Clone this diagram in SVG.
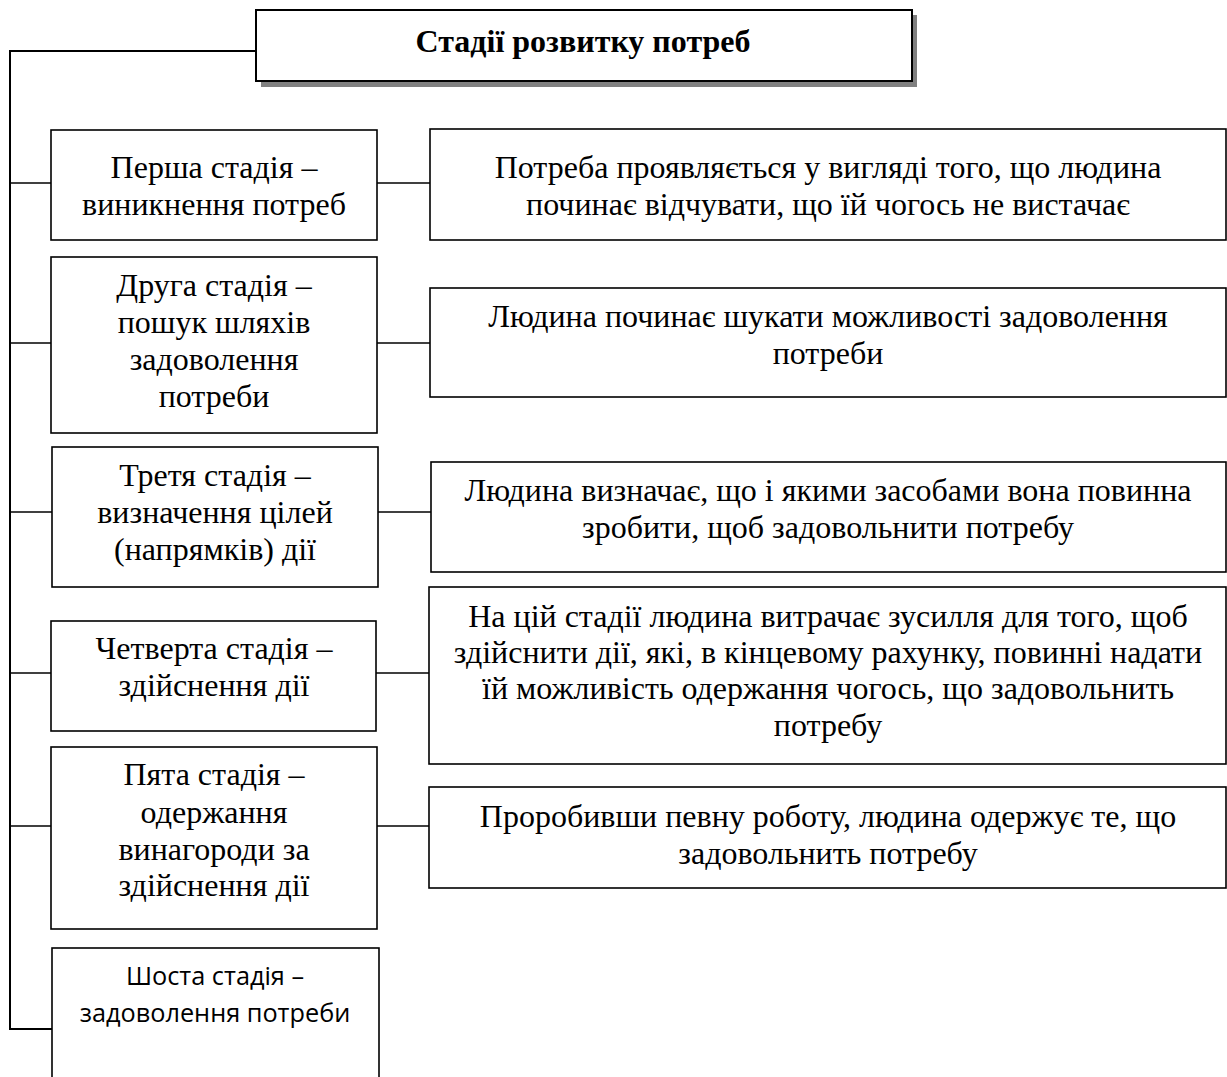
<svg xmlns="http://www.w3.org/2000/svg" width="1227" height="1077" viewBox="0 0 1227 1077">
<style>
.box{fill:#fff;stroke:#000;stroke-width:1.6}
.conn{fill:none;stroke:#000;stroke-width:1.6}
.t{font-family:"Liberation Serif","Times New Roman",serif;font-size:32px;fill:#000;text-anchor:middle}
.title{font-family:"Liberation Serif","Times New Roman",serif;font-size:32px;font-weight:bold;fill:#000;text-anchor:middle}
.s{font-family:"Open Sans","Noto Sans",sans-serif;font-size:25.3px;fill:#000;text-anchor:middle}
</style>
<rect width="1227" height="1077" fill="#fff"/>
<g id="connectors">
<polyline class="conn" points="256,51 10,51 10,1029 52,1029" style="stroke-width:2"/>
<line class="conn" x1="10" y1="183" x2="51" y2="183"/>
<line class="conn" x1="10" y1="343" x2="51" y2="343"/>
<line class="conn" x1="10" y1="512" x2="52" y2="512"/>
<line class="conn" x1="10" y1="673" x2="51" y2="673"/>
<line class="conn" x1="10" y1="826" x2="51" y2="826"/>
<line class="conn" x1="377" y1="183" x2="430" y2="183"/>
<line class="conn" x1="377" y1="343" x2="430" y2="343"/>
<line class="conn" x1="378" y1="512" x2="431" y2="512"/>
<line class="conn" x1="376" y1="673" x2="429" y2="673"/>
<line class="conn" x1="377" y1="826" x2="429" y2="826"/>
</g>
<g id="title">
<rect x="261" y="15" width="656" height="72" fill="#808080"/>
<rect x="256" y="10" width="656" height="71" fill="#fff" stroke="#000" stroke-width="2"/>
<text class="title" x="583" y="52">Стадії розвитку потреб</text>
</g>
<g id="stage1">
<rect class="box" x="51" y="130" width="326" height="110"/>
<text class="t" x="214" y="178">Перша стадія –</text>
<text class="t" x="214" y="215">виникнення потреб</text>
</g>
<g id="desc1">
<rect class="box" x="430" y="129" width="796" height="111"/>
<text class="t" x="828" y="178">Потреба проявляється у вигляді того, що людина</text>
<text class="t" x="828" y="215">починає відчувати, що їй чогось не вистачає</text>
</g>
<g id="stage2">
<rect class="box" x="51" y="257" width="326" height="176"/>
<text class="t" x="214" y="296">Друга стадія –</text>
<text class="t" x="214" y="333">пошук шляхів</text>
<text class="t" x="214" y="370">задоволення</text>
<text class="t" x="214" y="407">потреби</text>
</g>
<g id="desc2">
<rect class="box" x="430" y="288" width="796" height="109"/>
<text class="t" x="828" y="327">Людина починає шукати можливості задоволення</text>
<text class="t" x="828" y="364">потреби</text>
</g>
<g id="stage3">
<rect class="box" x="52" y="447" width="326" height="140"/>
<text class="t" x="215" y="486">Третя стадія –</text>
<text class="t" x="215" y="523">визначення цілей</text>
<text class="t" x="215" y="560">(напрямків) дії</text>
</g>
<g id="desc3">
<rect class="box" x="431" y="462" width="795" height="110"/>
<text class="t" x="828" y="501">Людина визначає, що і якими засобами вона повинна</text>
<text class="t" x="828" y="538">зробити, щоб задовольнити потребу</text>
</g>
<g id="stage4">
<rect class="box" x="51" y="621" width="325" height="110"/>
<text class="t" x="214" y="659">Четверта стадія –</text>
<text class="t" x="214" y="696">здійснення дії</text>
</g>
<g id="desc4">
<rect class="box" x="429" y="587" width="797" height="177"/>
<text class="t" x="828" y="627">На цій стадії людина витрачає зусилля для того, щоб</text>
<text class="t" x="828" y="663">здійснити дії, які, в кінцевому рахунку, повинні надати</text>
<text class="t" x="828" y="699">їй можливість одержання чогось, що задовольнить</text>
<text class="t" x="828" y="736">потребу</text>
</g>
<g id="stage5">
<rect class="box" x="51" y="747" width="326" height="182"/>
<text class="t" x="214" y="785">Пята стадія –</text>
<text class="t" x="214" y="823">одержання</text>
<text class="t" x="214" y="860">винагороди за</text>
<text class="t" x="214" y="896">здійснення дії</text>
</g>
<g id="desc5">
<rect class="box" x="429" y="787" width="797" height="101"/>
<text class="t" x="828" y="827">Проробивши певну роботу, людина одержує те, що</text>
<text class="t" x="828" y="864">задовольнить потребу</text>
</g>
<g id="stage6">
<rect class="box" x="52" y="948" width="327" height="140"/>
<text class="s" x="215" y="985">Шоста стадія –</text>
<text class="s" x="215" y="1022">задоволення потреби</text>
</g>
</svg>
